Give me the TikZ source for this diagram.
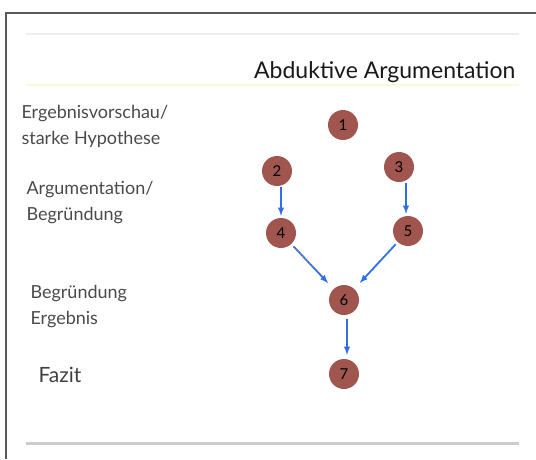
\documentclass[tikz,border=0pt]{standalone}
\usepackage{fontspec}
\setmainfont{Lato}
\usepackage{tikz}

\definecolor{kreis}{HTML}{A0564E}
\definecolor{pfeil}{HTML}{2F6FE8}
\definecolor{schrift}{HTML}{4A4A4A}

\begin{document}
\begin{tikzpicture}[x=1pt,y=-1pt]
\tikzstyle{schritt}=[circle, fill=kreis, inner sep=0pt, minimum size=30pt, font=\fontsize{15}{15}\selectfont]
\tikzstyle{seite}=[anchor=west, align=left, text=schrift, font=\fontsize{18}{26}\selectfont]
\tikzstyle{fluss}=[pfeil, line width=1.8pt, -latex]
 \useasboundingbox (0,0) rectangle (536,459);
 % rahmen und linien
 \draw[line width=2pt, color=black!65] (536,12.5) -- (5.5,12.5) -- (5.5,459);
 \draw[line width=1.5pt, color=black!7] (26,34) -- (519,34);
 \draw[line width=1.5pt, color=green!40!yellow!15] (26,85) -- (519,85);
 \draw[line width=3pt, color=black!20] (26,443) -- (519,443);
 \node[anchor=base east, text=black!90, font=\fontsize{23}{23}\selectfont] (titel) at (519,78) {Abduktive Argumentation};
 % linke spalte
 \node[seite] (vorschau) at (18,126) {Ergebnisvorschau/\\starke Hypothese};
 \node[seite] (argument) at (23,203) {Argumentation/\\Begründung};
 \node[seite] (ergebnis) at (27,307) {Begründung\\Ergebnis};
 \node[seite, text=black!75, font=\fontsize{21}{21}\selectfont] (fazit) at (35,375) {Fazit};
 % schritte
 \node[schritt] (s1) at (343,125) {1};
 \node[schritt] (s2) at (277,171) {2};
 \node[schritt] (s3) at (399,167) {3};
 \node[schritt] (s4) at (281,233) {4};
 \node[schritt] (s5) at (408,231) {5};
 \node[schritt] (s6) at (344,300) {6};
 \node[schritt] (s7) at (344,374) {7};
 \draw[fluss, shorten <=1pt, shorten >=2pt] ([xshift=4pt]s2.south) -- ([xshift=0pt]s4.north);
 \draw[fluss, shorten <=1pt, shorten >=2pt] ([xshift=7pt]s3.south) -- ([xshift=-2pt]s5.north);
 \draw[fluss, shorten <=3pt, shorten >=8pt] (s4) -- (s6);
 \draw[black!45, dotted, line width=1.3pt, shorten <=3pt, shorten >=30pt] (s4) -- (s6);
 \draw[fluss, shorten <=3pt, shorten >=8pt] (s5) -- (s6);
 \draw[fluss, shorten <=4pt, shorten >=4pt] ([xshift=3pt]s6.south) -- ([xshift=3pt]s7.north);
\end{tikzpicture}
\end{document}
